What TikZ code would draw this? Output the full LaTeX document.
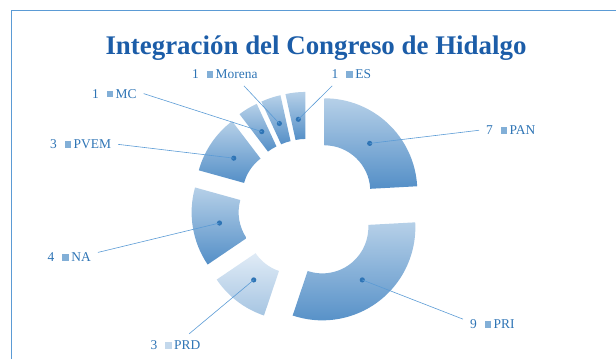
\documentclass[tikz,border=0pt]{standalone}
\usepackage{fontspec}
\setmainfont{Liberation Serif}
\usetikzlibrary{positioning}

\definecolor{titleblue}{RGB}{28,93,168}
\definecolor{labelblue}{RGB}{46,116,181}
\definecolor{leaderblue}{RGB}{91,155,213}
\definecolor{slicetop}{RGB}{182,208,232}
\definecolor{slicebot}{RGB}{84,143,199}
\definecolor{palttop}{RGB}{224,235,246}
\definecolor{paltbot}{RGB}{166,197,226}
\definecolor{keymid}{RGB}{130,175,215}
\definecolor{keylight}{RGB}{195,216,236}

\newcommand{\partykey}[1]{\hspace{8bp}\textcolor{#1}{\rule[0.8bp]{6.5bp}{6.5bp}}\hspace{2.5bp}}

\begin{document}
\begin{tikzpicture}[x=1bp, y=1bp,
    lbl/.style={text=labelblue, font=\fontsize{13.5}{15}\selectfont, inner sep=2bp, outer sep=5bp, anchor=base west},
    leader/.style={draw=leaderblue, line width=0.6bp},
    dot/.style={fill=labelblue}]
    \useasboundingbox (0,0) rectangle (616,359);
    \draw[leaderblue, line width=0.8bp] (11,0) -- (11,349) -- (616,349);

    \node[text=titleblue, font=\fontsize{27}{30}\selectfont\bfseries, anchor=base] (title) at (316,305) {Integración del Congreso de Hidalgo};

    % doughnut, every slice pushed out along its middle
    \begin{scope}[shift={(308,150.5)}]
    \foreach \nm/\sa/\ea/\tc/\bc in {pan/90/3.10/slicetop/slicebot,
            pri/3.10/-108.62/slicetop/slicebot,
            prd/-108.62/-145.86/palttop/paltbot,
            na/-145.86/-195.52/slicetop/slicebot,
            pvem/-195.52/-232.76/slicetop/slicebot,
            mc/-232.76/-245.17/slicetop/slicebot,
            morena/-245.17/-257.59/slicetop/slicebot,
            es/-257.59/-270/slicetop/slicebot}{
        \pgfmathsetmacro\md{(\sa+\ea)/2}
        \begin{scope}[shift={(\md:23.7)}]
            \shade[top color=\tc, bottom color=\bc] (\sa:93) arc[start angle=\sa, end angle=\ea, radius=93]
                -- (\ea:46) arc[start angle=\ea, end angle=\sa, radius=46] -- cycle;
            \coordinate (\nm) at (\md:66);
        \end{scope}
    }
    \end{scope}

    \node[lbl] (panlbl) at (479,224.3) {7\partykey{keymid}PAN};
    \node[lbl] (prilbl) at (463,30.3) {9\partykey{keymid}PRI};
    \node[lbl] (prdlbl) at (143.5,9.3) {3\partykey{keylight}PRD};
    \node[lbl] (nalbl) at (40.7,97.6) {4\partykey{keymid}NA};
    \node[lbl] (pvemlbl) at (43,210.3) {3\partykey{keymid}PVEM};
    \node[lbl] (mclbl) at (85,261) {1\partykey{keymid}MC};
    \node[lbl] (morenalbl) at (185,280.3) {1\partykey{keymid}Morena};
    \node[lbl] (eslbl) at (324.7,280.3) {1\partykey{keymid}ES};

    \foreach \nm in {pan,pri,prd,na,pvem,mc,morena,es}
        \fill[dot] (\nm) circle (2.6);

    \path[leader]
    (pan) edge (panlbl.west)
    (pri) edge (prilbl.170)
    (prd) edge (prdlbl.40)
    (na) edge (nalbl.9)
    (pvem) edge (pvemlbl.east)
    (mc) edge (mclbl.east)
    (morena) edge (morenalbl.-31)
    (es) edge (eslbl.-149);
\end{tikzpicture}
\end{document}
